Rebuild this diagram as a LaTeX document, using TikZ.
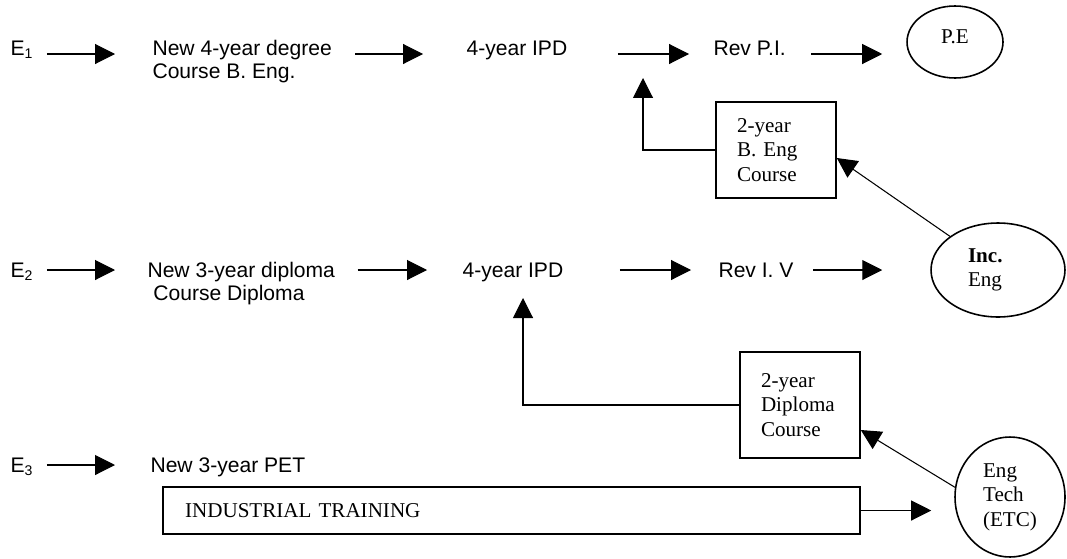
\documentclass[tikz,border=0pt]{standalone}
\usepackage{fontspec}
\setmainfont{Liberation Sans}
\newfontfamily\tnr{Liberation Serif}
\usetikzlibrary{arrows.meta, positioning, shapes.geometric}

\begin{document}
\begin{tikzpicture}[x=0.02cm, y=-0.02cm, >={Triangle[length=0.4cm, width=0.4cm]}, line width=0.6pt,
    txt/.style={anchor=base west, inner sep=0, align=left, font=\fontsize{12}{13}\selectfont},
    box/.style={draw, line width=0.9pt, font=\tnr\fontsize{12}{14}\selectfont, align=left, inner xsep=0.42cm, text width=1.56cm},
    oval/.style={draw, ellipse, line width=0.9pt, inner sep=0, font=\tnr\fontsize{12}{14}\selectfont}]
  \useasboundingbox (0,0) rectangle (1067,558);
  % row lines
  \coordinate (r1) at (0,54);
  \coordinate (r2) at (0,270);
  \coordinate (r3) at (0,465);

  % E1 row
  \node[txt] (e1) at (10,55) {E\textsubscript{1}};
  \node[txt] (new1) at (152,78) {New 4-year degree\\Course B. Eng.};
  \node[txt] (ipd1) at (466,55) {4-year IPD};
  \node[txt] (revp) at (713,55) {Rev P.I.};
  \node[oval, minimum width=1.92cm, minimum height=1.44cm, text depth=0.2cm] (pe) at (955,42) {P.E};
  \draw[->, shorten <=0.26cm, shorten >=0.74cm] (e1.east |- r1) -- (new1.west |- r1);
  \draw[->, shorten <=0.46cm, shorten >=0.86cm] (new1.east |- r1) -- (ipd1.west |- r1);
  \draw[->, shorten <=1.0cm, shorten >=0.48cm] (ipd1.east |- r1) -- (revp.west |- r1);
  \draw[->, shorten <=0.5cm, shorten >=0.48cm] (revp.east |- r1) -- (pe.west |- r1);

  % E2 row
  \node[txt] (e2) at (10,277) {E\textsubscript{2}};
  \node[txt] (new2) at (147,300) {New 3-year diploma\\~Course Diploma};
  \node[txt] (ipd2) at (462,277) {4-year IPD};
  \node[txt] (revi) at (718,277) {Rev I. V};
  \node[oval, minimum width=2.68cm, minimum height=1.88cm, text width=1.2cm, align=left] (inc) at (998,270) {\textbf{Inc.}\\Eng};
  \draw[->, shorten <=0.26cm, shorten >=0.64cm] (e2.east |- r2) -- (new2.west |- r2);
  \draw[->, shorten <=0.44cm, shorten >=0.7cm] (new2.east |- r2) -- (ipd2.west |- r2);
  \draw[->, shorten <=1.12cm, shorten >=0.54cm] (ipd2.east |- r2) -- (revi.west |- r2);
  \draw[->, shorten <=0.38cm, shorten >=0.96cm] (revi.east |- r2) -- (inc.west |- r2);

  % E3 row
  \node[txt] (e3) at (10,472) {E\textsubscript{3}};
  \node[txt] (pet) at (150,472) {New 3-year PET};
  \draw[->, shorten <=0.26cm, shorten >=0.7cm] (e3.east |- r3) -- (pet.west |- r3);

  % side courses
  \node[box, minimum height=1.92cm] (bengc) at (776,150) {2-year\\B. Eng\\Course};
  \node[box, minimum height=2.12cm] (dipc) at (800,405) {2-year\\Diploma\\Course};
  \node[oval, minimum width=2.2cm, minimum height=2.4cm, align=left] (etc) at (1010,497) {Eng\\Tech\\(ETC)};
  \node[box, text width=13.06cm, inner xsep=0.44cm, minimum height=0.94cm] (trn) at (511.5,510.5) {INDUSTRIAL TRAINING};

  \coordinate (up1) at (643,78);
  \coordinate (up2) at (523,298);
  \draw[->] (bengc.west) -| (up1);
  \draw[->] (dipc.west) -| (up2);
  \draw[->] (inc.145) -- ([yshift=-0.16cm]bengc.east);
  \draw[->] (etc.170) -- ([yshift=-0.5cm]dipc.east);
  \draw[->, shorten >=0.46cm] (trn.east) -- (etc.west |- trn.east);
\end{tikzpicture}
\end{document}
